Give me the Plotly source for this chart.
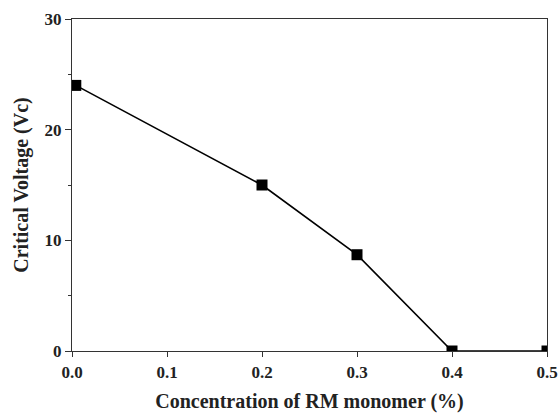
import plotly.graph_objects as go

concentration = [0.004, 0.2, 0.3, 0.4, 0.5]
critical_voltage = [24.0, 15.0, 8.7, 0.0, 0.0]

x_ticks = [0.0, 0.1, 0.2, 0.3, 0.4, 0.5]
x_labels = ["0.0", "0.1", "0.2", "0.3", "0.4", "0.5"]
y_ticks = [0, 10, 20, 30]
y_labels = ["0", "10", "20", "30"]

font_family = "Liberation Serif"

fig = go.Figure()
fig.add_trace(go.Scatter(
    x=concentration, y=critical_voltage,
    mode="lines+markers",
    line=dict(color="black", width=1.6),
    marker=dict(symbol="square", size=11, color="black"),
    cliponaxis=True,
    showlegend=False,
))

fig.update_layout(
    width=560, height=414,
    margin=dict(l=72, r=13, t=19, b=63),
    plot_bgcolor="white", paper_bgcolor="white",
    font=dict(family=font_family, color="#222222"),
)
fig.update_xaxes(
    range=[0, 0.5], tickvals=x_ticks, ticktext=x_labels,
    showgrid=False, zeroline=False, automargin=False,
    showline=True, linecolor="#333333", linewidth=1.2, mirror=True,
    ticks="outside", ticklen=5, tickcolor="#333333",
    tickfont=dict(family=font_family, size=17, color="#222222", weight="bold"),
    title=dict(text="<b>Concentration of RM monomer (%)</b>",
               font=dict(family=font_family, size=20, color="#222222"), standoff=13),
)
fig.update_yaxes(
    range=[0, 30], tickvals=y_ticks, ticktext=y_labels,
    showgrid=False, zeroline=False, automargin=False,
    showline=True, linecolor="#333333", linewidth=1.2, mirror=True,
    ticks="outside", ticklen=6, tickcolor="#333333",
    minor=dict(tickvals=[5, 15, 25], ticks="outside", ticklen=3, tickcolor="#333333"),
    tickfont=dict(family=font_family, size=17, color="#222222", weight="bold"),
    title=dict(text="<b>Critical Voltage (Vc)</b>",
               font=dict(family=font_family, size=20, color="#222222"), standoff=10),
)

fig.write_html("out.html")
